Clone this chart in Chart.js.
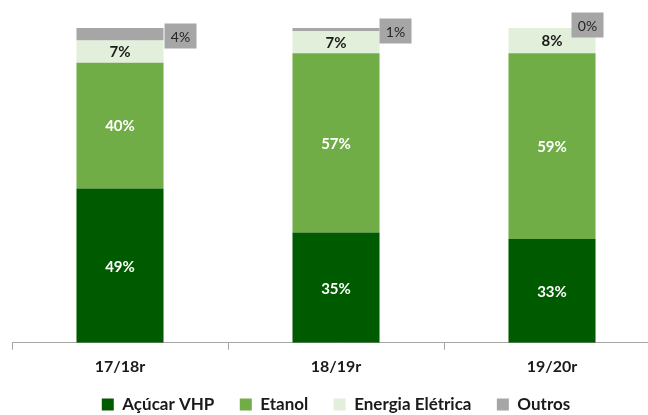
<!DOCTYPE html>
<html lang="pt">
<head>
<meta charset="UTF-8">
<title>Mix de produção</title>
<script src="https://cdn.jsdelivr.net/npm/chart.js"></script>
<style>
  html, body { margin: 0; padding: 0; background: #fff; overflow: hidden; }
  #wrap { width: 684px; height: 423px; }
</style>
</head>
<body>
<div id="wrap"><canvas id="mix"></canvas></div>
<script>
// Dados
const safras = ['17/18r', '18/19r', '19/20r'];
const acucar = [49, 35, 33];
const etanol = [40, 57, 59];
const energia = [7, 7, 8];
const outros = [4, 1, 0];

const FONT = 'Lato, "Open Sans", sans-serif';

// rótulos dentro das barras + caixas cinzas de "Outros"
const labelsPlugin = {
  id: 'segLabels',
  afterDatasetsDraw(chart, args, opts) {
    const ctx = chart.ctx;
    ctx.save();
    ctx.font = 'bold 15px ' + FONT;
    ctx.textAlign = 'center';
    ctx.textBaseline = 'middle';
    chart.data.datasets.forEach((ds, di) => {
      const meta = chart.getDatasetMeta(di);
      meta.data.forEach((bar, i) => {
        const v = ds.data[i];
        const txt = v + '%';
        if (di === 3) {
          const off = opts.boxOffsets[i];
          const cx = bar.x + bar.width / 2 + off[0];
          const cy = bar.y + off[1];
          ctx.font = '14px ' + FONT;
          const w = 32, h = 25;
          ctx.fillStyle = '#a6a6a6';
          ctx.fillRect(cx - w / 2, cy - h / 2, w, h);
          ctx.fillStyle = '#262626';
          ctx.fillText(txt, cx, cy + 1);
          ctx.font = 'bold 15px ' + FONT;
        } else {
          ctx.fillStyle = di === 2 ? '#1a1a1a' : '#ffffff';
          ctx.fillText(txt, bar.x, (bar.y + bar.base) / 2 + 1);
        }
      });
    });
    ctx.restore();
  }
};

new Chart(document.getElementById('mix'), {
  type: 'bar',
  data: {
    labels: safras,
    datasets: [
      { label: 'Açúcar VHP', data: acucar, backgroundColor: '#005a00' },
      { label: 'Etanol', data: etanol, backgroundColor: '#70ad47' },
      { label: 'Energia Elétrica', data: energia, backgroundColor: '#e2efda' },
      { label: 'Outros', data: outros, backgroundColor: '#a6a6a6' }
    ]
  },
  options: {
    responsive: true,
    maintainAspectRatio: false,
    animation: false,
    categoryPercentage: 1,
    barPercentage: 0.403,
    layout: { padding: { left: 12, right: 24, top: 28, bottom: 0 } },
    scales: {
      x: {
        stacked: true,
        grid: { display: true, drawOnChartArea: false, color: '#a6a6a6', tickLength: 7, offset: true },
        border: { color: '#a6a6a6', width: 1 },
        ticks: { color: '#1a1a1a', font: { family: FONT, size: 16, weight: 'bold' }, padding: 7 }
      },
      y: {
        stacked: true,
        display: false,
        min: 0,
        max: 100
      }
    },
    plugins: {
      legend: {
        position: 'bottom',
        labels: {
          boxWidth: 12,
          boxHeight: 12,
          padding: 13,
          color: '#1a1a1a',
          font: { family: FONT, size: 17, weight: 'bold' },
          generateLabels(chart) {
            const items = Chart.defaults.plugins.legend.labels.generateLabels(chart);
            items.forEach((it, k) => { if (k < items.length - 1) it.text = it.text + '   '; });
            return items;
          }
        }
      },
      tooltip: { enabled: false },
      segLabels: { boxOffsets: [[17, 8], [16, 3], [-8, -3]] }
    }
  },
  plugins: [labelsPlugin]
});
</script>
</body>
</html>
